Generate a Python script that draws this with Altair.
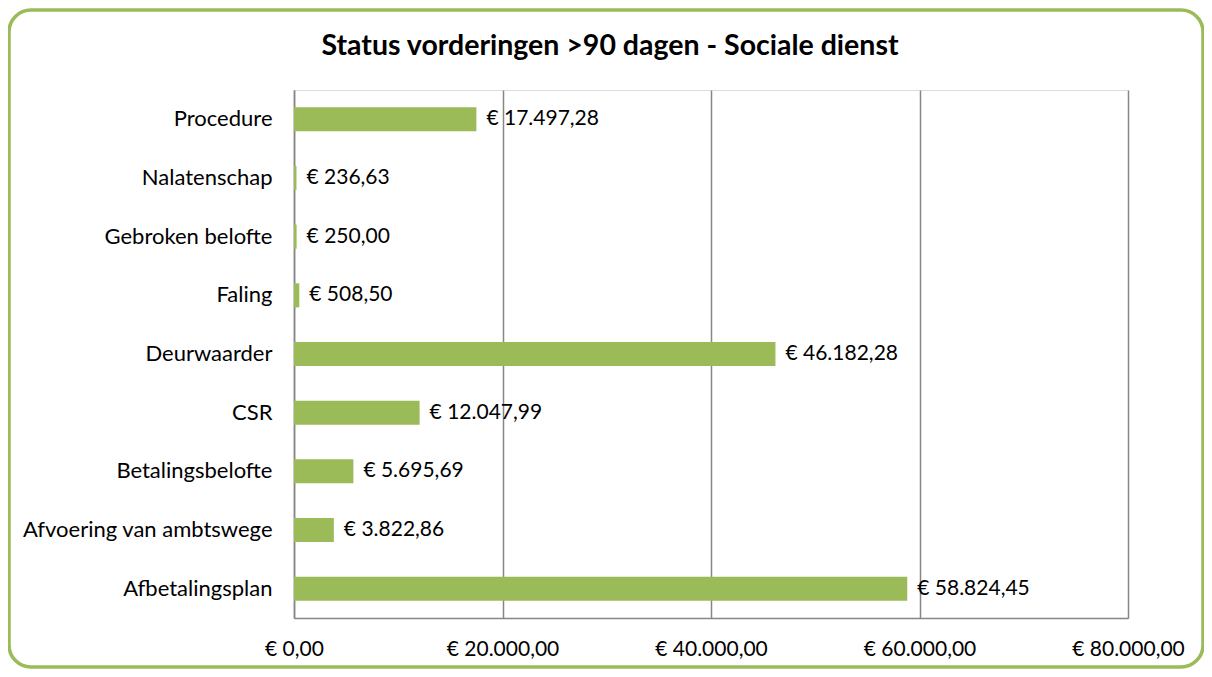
import altair as alt
import pandas as pd

categories = ["Procedure", "Nalatenschap", "Gebroken belofte", "Faling", "Deurwaarder",
              "CSR", "Betalingsbelofte", "Afvoering van ambtswege", "Afbetalingsplan"]
values = [17497.28, 236.63, 250.00, 508.50, 46182.28, 12047.99, 5695.69, 3822.86, 58824.45]
x_ticks = [0, 20000, 40000, 60000, 80000]
title_text = "Status vorderingen >90 dagen - Sociale dienst"


def eur(v):
    s = f"{v:,.2f}".replace(",", "#").replace(".", ",").replace("#", ".")
    return "€ " + s


df = pd.DataFrame({"cat": categories, "val": values, "lab": [eur(v) for v in values]})

GREEN = "#9BBB59"
FONT = "Lato"
W, H = 834, 528

base = alt.Chart(df)

bars = base.mark_bar(color=GREEN).encode(
    y=alt.Y("cat:N", sort=categories, title=None,
            scale=alt.Scale(paddingInner=0.59, paddingOuter=0.295),
            axis=alt.Axis(labelFontSize=22, labelFont=FONT, labelColor="#000000",
                          labelPadding=22, ticks=False, domainColor="#868686",
                          domainWidth=1.5, labelLimit=400)),
    x=alt.X("val:Q", title=None,
            scale=alt.Scale(domain=[0, 80000], nice=False),
            axis=alt.Axis(values=x_ticks, labelFontSize=21, labelFont=FONT,
                          labelColor="#000000", labelPadding=20, ticks=False,
                          labelFlush=False, labelOverlap=False,
                          grid=True, gridColor="#868686", gridWidth=1.5,
                          domainColor="#868686", domainWidth=1.5,
                          labelExpr="'€ ' + replace(replace(replace(format(datum.value, ',.2f'), ',', '#'), '.', ','), '#', '.')")),
)

labels = base.mark_text(align="left", baseline="middle", dx=10, fontSize=21,
                        font=FONT, color="#000000").encode(
    y=alt.Y("cat:N", sort=categories),
    x=alt.X("val:Q"),
    text="lab:N",
)

single = alt.Chart(pd.DataFrame({"t": [title_text]}))

title = single.mark_text(align="center", baseline="alphabetic", fontSize=28.5,
                         fontWeight="bold", font=FONT, color="#000000").encode(
    x=alt.value(316), y=alt.value(-35), text="t:N",
)

border = single.mark_rect(
    fillOpacity=0, stroke=GREEN, strokeWidth=3.5, cornerRadius=22, clip=False
).encode(
    x=alt.value(-285), x2=alt.value(909),
    y=alt.value(-80), y2=alt.value(577),
)

chart = alt.layer(bars, labels, title, border).properties(
    width=W, height=H,
    autosize=alt.AutoSizeParams(type="none"),
    padding={"left": 286, "top": 82, "right": 76, "bottom": 51},
).configure_view(stroke=None).configure(background="white")

chart.save("out.html", embed_options={"renderer": "svg", "actions": False})
